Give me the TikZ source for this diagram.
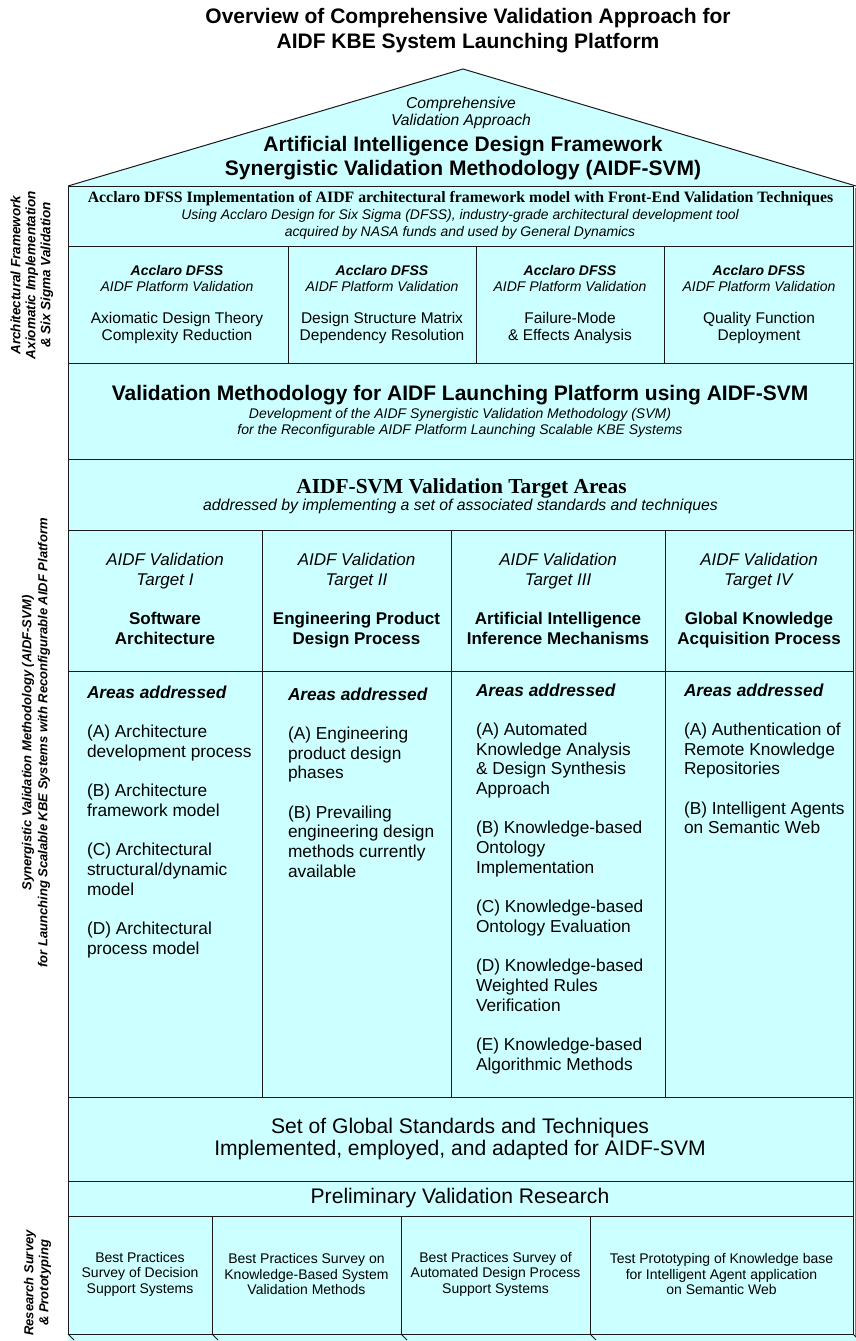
\documentclass[tikz,border=0pt]{standalone}
\usepackage{fontspec}
\setmainfont{Liberation Sans}
\newfontfamily\tnr{Liberation Serif}
\definecolor{cy}{HTML}{CCFFFF}
\definecolor{edge}{HTML}{1A1A1A}
\tikzset{
  cell/.style={draw=edge,fill=cy,line width=1pt,inner sep=0pt,outer sep=0pt},
  txt/.style={inner sep=0pt,outer sep=0pt,align=center,text=black},
  ltxt/.style={inner sep=0pt,outer sep=0pt,align=left,anchor=north west,text=black},
}
\newcommand\cellbox[5]{\node[cell,anchor=north west,minimum width=#4pt-#2pt,minimum height=#5pt-#3pt] (#1) at (#2,#3) {};}
\newcommand\sz[2]{\fontsize{#1}{#2}\selectfont}
\newcommand\targettext[3]{\textit{AIDF Validation}\\\textit{Target #1}\\[19.7pt]\textbf{#2}\\\textbf{#3}}
\begin{document}
\begin{tikzpicture}[x=1pt,y=-1pt]
\useasboundingbox (0,0) rectangle (856,1341);
% title
\node[txt,font=\sz{21}{25}\bfseries] (title) at (468,30.5) {Overview of Comprehensive Validation Approach for\\AIDF KBE System Launching Platform};
% bottom strip and shadow
\fill[cy] (68,1334) rectangle (856,1341);
\draw[gray,line width=1.2pt] (855.5,188) -- (855.5,1336);
% roof
\coordinate (rl) at (68,186);
\coordinate (apex) at (463,69);
\coordinate (rr) at (856,186);
\fill[cy] (rl) -- (apex) -- (rr) -- cycle;
\draw[edge,line width=1pt] (rl) -- (apex) -- (rr);
\node[txt,font=\sz{15.7}{17.5}\itshape] (roofa) at (461,113) {Comprehensive\\Validation Approach};
\node[txt,font=\sz{21}{24}\bfseries] (roofb) at (463,158) {Artificial Intelligence Design Framework\\Synergistic Validation Methodology (AIDF-SVM)};
% rows
\cellbox{r1}{68}{186}{853}{246}
\cellbox{r2a}{68}{246}{288}{363}
\cellbox{r2b}{288}{246}{476}{363}
\cellbox{r2c}{476}{246}{664}{363}
\cellbox{r2d}{664}{246}{853}{363}
\cellbox{r3}{68}{363}{853}{459}
\cellbox{r4}{68}{459}{853}{530}
\cellbox{r5a}{68}{530}{262}{671}
\cellbox{r5b}{262}{530}{451}{671}
\cellbox{r5c}{451}{530}{665}{671}
\cellbox{r5d}{665}{530}{853}{671}
\cellbox{r6a}{68}{671}{262}{1097}
\cellbox{r6b}{262}{671}{451}{1097}
\cellbox{r6c}{451}{671}{665}{1097}
\cellbox{r6d}{665}{671}{853}{1097}
\cellbox{r7}{68}{1097}{853}{1181}
\cellbox{r8}{68}{1181}{853}{1216}
\cellbox{r9a}{68}{1216}{212}{1334}
\cellbox{r9b}{212}{1216}{401}{1334}
\cellbox{r9c}{401}{1216}{590}{1334}
\cellbox{r9d}{590}{1216}{853}{1334}
% foundation ticks
\coordinate (ta) at (68,1334);
\coordinate (tb) at (212,1334);
\coordinate (tc) at (401,1334);
\coordinate (td) at (590,1334);
\coordinate (te) at (853,1334);
\foreach \nm in {ta,tb,tc,td,te}{
  \draw[edge,line width=0.8pt] (\nm) -- ++(6,6);
}
% row 1
\node[txt,font=\sz{15.8}{17}\tnr\bfseries] (r1t) at (460.5,199) {Acclaro DFSS Implementation of AIDF architectural framework model with Front-End Validation Techniques};
\node[txt,font=\sz{13.95}{17}\itshape] (r1s) at (460,224) {Using Acclaro Design for Six Sigma (DFSS), industry-grade architectural development tool\\acquired by NASA funds and used by General Dynamics};
% row 2
\node[txt,font=\sz{14}{16}\itshape] (h2a) at (177,278.5) {\textbf{Acclaro DFSS}\\AIDF Platform Validation};
\node[txt,font=\sz{14}{16}\itshape] (h2b) at (382,278.5) {\textbf{Acclaro DFSS}\\AIDF Platform Validation};
\node[txt,font=\sz{14}{16}\itshape] (h2c) at (570,278.5) {\textbf{Acclaro DFSS}\\AIDF Platform Validation};
\node[txt,font=\sz{14}{16}\itshape] (h2d) at (759,278.5) {\textbf{Acclaro DFSS}\\AIDF Platform Validation};
\node[txt,font=\sz{15.5}{17}] (b2a) at (177,328) {Axiomatic Design Theory\\Complexity Reduction};
\node[txt,font=\sz{15.5}{17}] (b2b) at (382,328) {Design Structure Matrix\\Dependency Resolution};
\node[txt,font=\sz{15.5}{17}] (b2c) at (570,328) {Failure-Mode\\\& Effects Analysis};
\node[txt,font=\sz{15.5}{17}] (b2d) at (759,328) {Quality Function\\Deployment};
% row 3
\node[txt,font=\sz{21}{22}\bfseries] (r3t) at (460,395) {Validation Methodology for AIDF Launching Platform using AIDF-SVM};
\node[txt,font=\sz{14}{16}\itshape] (r3s) at (460,423) {Development of the AIDF Synergistic Validation Methodology (SVM)\\for the Reconfigurable AIDF Platform Launching Scalable KBE Systems};
% row 4
\node[txt,font=\sz{21.4}{22}\tnr\bfseries] (r4t) at (461.5,488) {AIDF-SVM Validation Target Areas};
\node[txt,font=\sz{15.8}{18}\itshape] (r4s) at (460.5,506) {addressed by implementing a set of associated standards and techniques};
% row 5
\node[txt,font=\sz{17}{19.7},anchor=north] (t5a) at (165,553.5) {\targettext{I}{Software}{Architecture}};
\node[txt,font=\sz{17}{19.7},anchor=north] (t5b) at (356.5,553.5) {\targettext{II}{Engineering Product}{Design Process}};
\node[txt,font=\sz{17}{19.7},anchor=north] (t5c) at (558,553.5) {\targettext{III}{Artificial Intelligence}{Inference Mechanisms}};
\node[txt,font=\sz{17}{19.7},anchor=north] (t5d) at (759,553.5) {\targettext{IV}{Global Knowledge}{Acquisition Process}};
% row 6
\node[ltxt,font=\sz{17.3}{19.7}] (a6a) at (87,685.5) {\textbf{\textit{Areas addressed}}\\[19.7pt]
(A) Architecture\\development process\\[19.7pt]
(B) Architecture\\framework model\\[19.7pt]
(C) Architectural\\structural/dynamic\\model\\[19.7pt]
(D) Architectural\\process model};
\node[ltxt,font=\sz{17.3}{19.7}] (a6b) at (288,687.5) {\textbf{\textit{Areas addressed}}\\[19.7pt]
(A) Engineering\\product design\\phases\\[19.7pt]
(B) Prevailing\\engineering design\\methods currently\\available};
\node[ltxt,font=\sz{17.3}{19.7}] (a6c) at (476,683.5) {\textbf{\textit{Areas addressed}}\\[19.7pt]
(A) Automated\\Knowledge Analysis\\\& Design Synthesis\\Approach\\[19.7pt]
(B) Knowledge-based\\Ontology\\Implementation\\[19.7pt]
(C) Knowledge-based\\Ontology Evaluation\\[19.7pt]
(D) Knowledge-based\\Weighted Rules\\Verification\\[19.7pt]
(E) Knowledge-based\\Algorithmic Methods};
\node[ltxt,font=\sz{17.3}{19.7}] (a6d) at (684,683.5) {\textbf{\textit{Areas addressed}}\\[19.7pt]
(A) Authentication of\\Remote Knowledge\\Repositories\\[19.7pt]
(B) Intelligent Agents\\on Semantic Web};
% row 7, 8
\node[txt,font=\sz{21.1}{22}] (r7t) at (460,1139.5) {Set of Global Standards and Techniques\\Implemented, employed, and adapted for AIDF-SVM};
\node[txt,font=\sz{21.1}{22}] (r8t) at (460,1198.5) {Preliminary Validation Research};
% row 9
\node[txt,font=\sz{14}{15.5}] (r9ta) at (140,1274) {Best Practices\\Survey of Decision\\Support Systems};
\node[txt,font=\sz{14}{15.5}] (r9tb) at (306.5,1274) {Best Practices Survey on\\Knowledge-Based System\\Validation Methods};
\node[txt,font=\sz{14}{15.5}] (r9tc) at (495.5,1274) {Best Practices Survey of\\Automated Design Process\\Support Systems};
\node[txt,font=\sz{14}{15.5}] (r9td) at (721.5,1274) {Test Prototyping of Knowledge base\\for Intelligent Agent application\\on Semantic Web};
% side labels
\node[txt,rotate=90,font=\sz{13.5}{15}\bfseries\itshape] (s1) at (32,275) {Architectural Framework\\Axiomatic Implementation\\\& Six Sigma Validation};
\node[txt,rotate=90,font=\sz{13}{16}\bfseries\itshape] (s2) at (36,743) {Synergistic Validation Methodology (AIDF-SVM)\\for Launching Scalable KBE Systems with Reconfigurable AIDF Platform};
\node[txt,rotate=90,font=\sz{13}{15}\bfseries\itshape] (s3) at (37.5,1283) {Research Survey\\\& Prototyping};
\end{tikzpicture}
\end{document}
